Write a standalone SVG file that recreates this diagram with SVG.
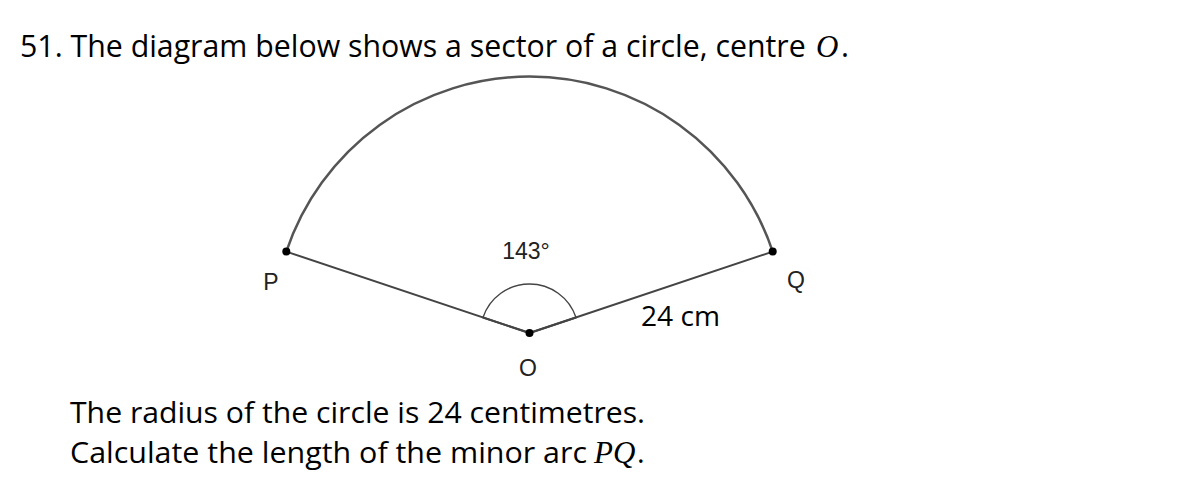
<svg xmlns="http://www.w3.org/2000/svg" width="1204" height="496" viewBox="0 0 1204 496">
<style>
.body{font-family:"Open Sans","Noto Sans",sans-serif;fill:#000}
.math{font-family:"Liberation Serif","DejaVu Serif",serif;font-style:italic;fill:#000}
.lbl{font-family:"Liberation Sans",Arial,sans-serif;fill:#222;font-size:23px;text-anchor:middle}
.edge{stroke:#444;stroke-width:2;fill:none;stroke-linecap:round}
.arc{stroke:#555;stroke-width:2.5;fill:none}
.ang{stroke:#444;stroke-width:1.4;fill:none}
.pt{fill:#000}
</style>
<rect width="1204" height="496" fill="#fff"/>
<g id="title">
<text class="body" x="20" y="57" font-size="30.3">51. The diagram below shows a sector of a circle, centre</text>
<text class="math" x="816" y="57" font-size="31">O</text>
<text class="body" x="841" y="57" font-size="30.3">.</text>
</g>
<g id="connectors">
<path id="arcPQ" class="arc" d="M 286.3 251.6 A 256.5 256.5 0 0 1 772.7 251.6"/>
<line id="OP" class="edge" x1="529.5" y1="333" x2="286.3" y2="251.6"/>
<line id="OQ" class="edge" x1="529.5" y1="333" x2="772.7" y2="251.6"/>
<line class="edge" stroke-width="3" x1="529.5" y1="333" x2="483" y2="317.5"/>
<line class="edge" stroke-width="3" x1="529.5" y1="333" x2="576" y2="317.5"/>
<path id="angle" class="ang" d="M 483 317.5 A 49 49 0 0 1 576 317.5"/>
</g>
<g id="P"><circle class="pt" cx="286.3" cy="251.6" r="4"/><text class="lbl" x="271" y="290">P</text></g>
<g id="Q"><circle class="pt" cx="772.7" cy="251.6" r="4"/><text class="lbl" x="796" y="288">Q</text></g>
<g id="O"><circle class="pt" cx="529.5" cy="333" r="4"/><text class="lbl" x="528" y="376">O</text></g>
<g id="angleLabel"><text class="lbl" x="526" y="259">143°</text></g>
<g id="radiusLabel"><text class="body" x="641" y="326" font-size="28" textLength="79" lengthAdjust="spacingAndGlyphs">24 cm</text></g>
<g id="question">
<text class="body" x="70" y="423" font-size="29" textLength="575" lengthAdjust="spacingAndGlyphs">The radius of the circle is 24 centimetres.</text>
<text class="body" x="70" y="463" font-size="29" textLength="517" lengthAdjust="spacingAndGlyphs">Calculate the length of the minor arc</text>
<text class="math" x="594" y="463" font-size="31">PQ</text>
<text class="body" x="637" y="463" font-size="29">.</text>
</g>
</svg>
